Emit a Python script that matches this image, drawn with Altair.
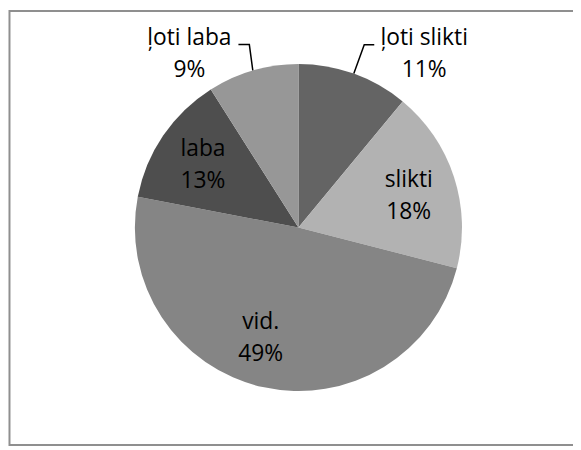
import math
import altair as alt
import pandas as pd

# ---- data ----
categories = ["ļoti slikti", "slikti", "vid.", "laba", "ļoti laba"]
values = [11, 18, 49, 13, 9]
colors = ["#646464", "#b2b2b2", "#858585", "#4e4e4e", "#979797"]

# ---- layout (pixels, relative to plot origin) ----
W, H = 570, 440
CX, CY = 293, 219.5
R = 165
LABEL_R = 117
LINE_H = 32
FONT = "Open Sans"

# label nudges (block centre) relative to the anchor point
inside_nudge = {"slikti": (0, 4.5), "vid.": (-12.5, -3), "laba": (0.5, 2.8)}
outside_nudge = {"ļoti slikti": (71, -19.7), "ļoti laba": (-64, -16.6)}
# leader line bends relative to the pie-edge point
leader_pts = {"ļoti slikti": [(10.5, -29.2), (20.6, -29.2)],
              "ļoti laba": [(-3.5, -26.1), (-14.5, -26.1)]}

total = sum(values)
pie_df = pd.DataFrame({"cat": categories, "value": values,
                       "idx": list(range(len(values)))})

label_rows, line_rows = [], []
cum = 0
for c, v in zip(categories, values):
    mid = (cum + v / 2) / total * 2 * math.pi
    cum += v
    sx, sy = math.sin(mid), -math.cos(mid)
    txt = f"{c}\n{v}%"
    if c in inside_nudge:
        dx, dy = inside_nudge[c]
        bx, by = CX + LABEL_R * sx + dx, CY + LABEL_R * sy + dy
    else:
        ex, ey = CX + R * sx, CY + R * sy
        dx, dy = outside_nudge[c]
        bx, by = ex + dx, ey + dy
        pts = [(0, 0)] + leader_pts[c]
        for k, (ox, oy) in enumerate(pts):
            line_rows.append({"cat": c, "k": k, "px": ex + ox, "py": ey + oy})
    # first line sits half a line above the block centre
    label_rows.append({"txt": txt, "lx": bx, "ly": by - LINE_H / 2})

label_df = pd.DataFrame(label_rows)
line_df = pd.DataFrame(line_rows)

border = alt.Chart(alt.Data(values=[{}])).mark_rect(
    fill="transparent", stroke="#8f8f8f", strokeWidth=2
).encode(x=alt.value(1.5), x2=alt.value(620), y=alt.value(1), y2=alt.value(439))

pie = alt.Chart(pie_df).mark_arc(outerRadius=R).encode(
    theta=alt.Theta("value:Q", stack=True),
    color=alt.Color("cat:N", scale=alt.Scale(domain=categories, range=colors), legend=None),
    order=alt.Order("idx:Q"),
    x=alt.value(CX),
    y=alt.value(CY),
)

leaders = alt.Chart(line_df).mark_line(color="#000000", strokeWidth=1.5).encode(
    x=alt.X("px:Q", scale=None, axis=None),
    y=alt.Y("py:Q", scale=None, axis=None),
    detail="cat:N",
    order="k:Q",
)

labels = alt.Chart(label_df).mark_text(
    align="center", baseline="middle", lineBreak="\n", lineHeight=LINE_H,
    fontSize=23, font=FONT, color="#000000"
).encode(
    x=alt.X("lx:Q", scale=None, axis=None),
    y=alt.Y("ly:Q", scale=None, axis=None),
    text="txt:N",
)

chart = alt.layer(border, pie, leaders, labels).properties(
    width=W, height=H, autosize=alt.AutoSizeParams(type="none"), padding=0,
    background="white"
).configure_view(stroke=None)

chart.save("out.html", embed_options={"renderer": "svg", "actions": False})
